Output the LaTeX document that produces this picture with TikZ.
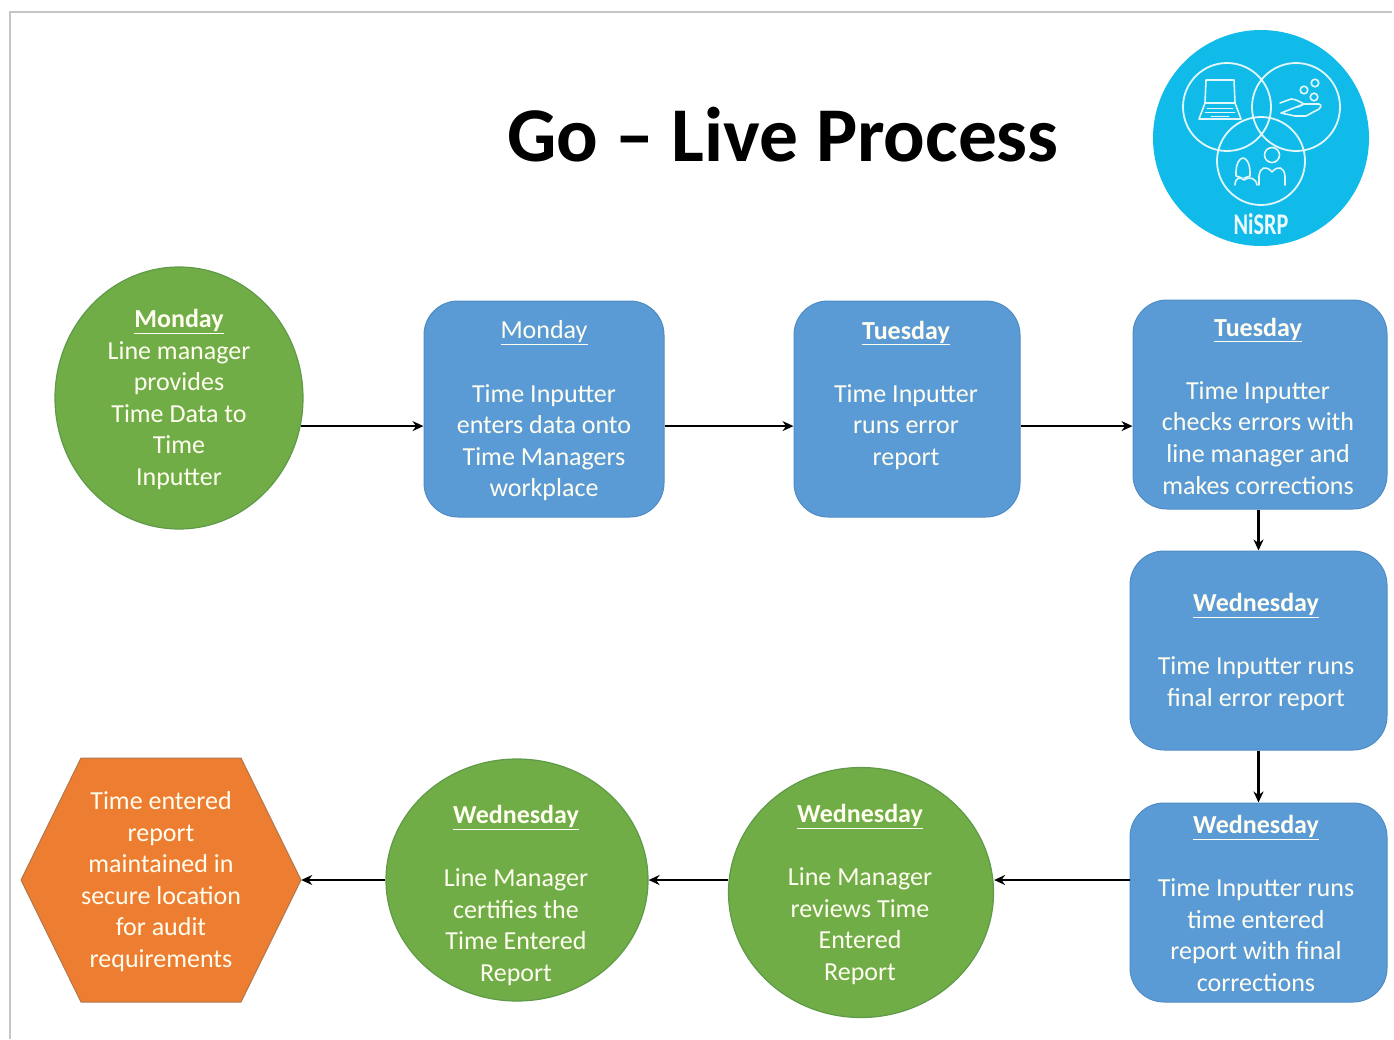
\documentclass[tikz,border=0pt]{standalone}
\usepackage{fontspec}
\setmainfont{Carlito}
\usetikzlibrary{shapes.geometric,arrows.meta}
\definecolor{bluefill}{HTML}{5B9BD5}
\definecolor{blueline}{HTML}{4F8CC4}
\definecolor{greenfill}{HTML}{70AD47}
\definecolor{greenline}{HTML}{5F9A48}
\definecolor{orangefill}{HTML}{ED7D31}
\definecolor{orangeline}{HTML}{B0784E}
\definecolor{logoblue}{HTML}{10BBE9}
\definecolor{framegrey}{HTML}{C6C6C6}
\newcommand{\hd}[1]{\underline{\textbf{#1}}}
\newcommand{\hn}[1]{\underline{#1}}
\tikzset{
  x=1pt,y=-1pt,
  shapetext/.style={inner sep=0pt,align=center,text=white!94!yellow,font=\fontsize{26}{31.6}\selectfont},
  bluebox/.style={draw=blueline,fill=bluefill,line width=1pt,rounded corners=34pt,inner sep=0pt},
  greenell/.style={ellipse,draw=greenline,fill=greenfill,line width=1.2pt,inner sep=0pt},
  flow/.style={line width=2.2pt,black,-{Stealth[length=11pt,width=10pt]}},
  icon/.style={draw=white!88!logoblue,line width=1.6pt,line join=round,line cap=round},
  ring/.style={draw=white!88!logoblue,line width=1.8pt}
}
\begin{document}
\begin{tikzpicture}
\useasboundingbox (0,0) rectangle (1394,1039);
\draw[framegrey,line width=2pt] (10,1039) -- (10,12) -- (1392,12);
\node[font=\fontsize{77.5}{80}\selectfont\bfseries,text=black,inner sep=0pt] (title) at (783,135) {Go – Live Process};
% logo
\node[circle,fill=logoblue,minimum size=216pt,inner sep=0pt] (logo) at (1261,138) {};
\draw[ring] (1227,107) circle[radius=44] (1296,107) circle[radius=44] (1261,161) circle[radius=44];
\draw[icon] (1206,80) -- (1234,80) -- (1235,103) -- (1205,103) -- cycle;
\draw[icon] (1205,103) -- (1199,119) -- (1241,119) -- (1235,103);
\draw[icon,line width=.9pt] (1207,108) -- (1233,108) (1205,112) -- (1235,112) (1211,116) -- (1229,116);
\draw[icon] (1315,83) circle[radius=3.8] (1304,90) circle[radius=3.8] (1314,97) circle[radius=3.8];
\draw[icon] (1280,103) -- (1291,99) .. controls (1296,99) and (1300,102) .. (1304,104) -- (1298,107) (1304,104) -- (1319,104) .. controls (1322,105) and (1321,108) .. (1319,109) -- (1306,116) -- (1295,116) -- (1281,113) -- cycle;
\draw[icon] (1272,155) circle[radius=7.5];
\draw[icon] (1259,185) -- (1259,176) .. controls (1260,167) and (1266,165) .. (1272,172) .. controls (1278,165) and (1284,167) .. (1285,176) -- (1285,185);
\draw[icon] (1236,176) .. controls (1235,152) and (1251,152) .. (1250,176) (1236,176) -- (1242,178) (1250,176) -- (1244,178);
\draw[icon] (1235,185) .. controls (1235,178) and (1240,176) .. (1244,180) .. controls (1249,176) and (1256,178) .. (1257,185);
\node[font=\fontsize{30}{30}\selectfont\bfseries,text=white!92!logoblue,inner sep=0pt,xscale=.74] (nisrp) at (1261,224) {NiSRP};
% shapes
\node[greenell,minimum width=248pt,minimum height=262pt] (c1) at (179,398) {};
\node[shapetext] (c1text) at (179,399.5) {\hd{Monday}\\Line manager\\provides\\Time Data to\\Time\\Inputter};
\node[bluebox,minimum width=240pt,minimum height=216pt] (b2) at (544,409) {};
\node[shapetext] (b2text) at (544,411) {\hn{Monday}\\~\\Time Inputter\\enters data onto\\Time Managers\\workplace};
\node[bluebox,minimum width=226pt,minimum height=216pt] (b3) at (907,409) {};
\node[shapetext] (b3text) at (906,409) {\hd{Tuesday}\\~\\Time Inputter\\runs error\\report\\~};
\node[bluebox,minimum width=254pt,minimum height=209pt] (b4) at (1260,404.5) {};
\node[shapetext] (b4text) at (1258,406) {\hd{Tuesday}\\~\\Time Inputter\\checks errors with\\line manager and\\makes corrections};
\node[bluebox,minimum width=257pt,minimum height=199pt] (b5) at (1258.5,650.5) {};
\node[shapetext] (b5text) at (1256,652) {\hd{Wednesday}\\~\\Time Inputter runs\\final error report};
\node[bluebox,minimum width=257pt,minimum height=199pt] (b6) at (1258.5,902.5) {};
\node[shapetext] (b6text) at (1256,903.5) {\hd{Wednesday}\\~\\Time Inputter runs\\time entered\\report with final\\corrections};
\node[greenell,minimum width=265pt,minimum height=250pt] (c7) at (861,892.5) {};
\node[shapetext] (c7text) at (860,894.5) {\hd{Wednesday}\\~\\Line Manager\\reviews Time\\Entered\\Report};
\node[greenell,minimum width=262pt,minimum height=242pt] (c8) at (517,880) {};
\node[shapetext] (c8text) at (516,895.5) {\hd{Wednesday}\\~\\Line Manager\\certifies the\\Time Entered\\Report};
\fill[orangefill,draw=orangeline,line width=1pt,line join=round] (21,880) -- (81,758) -- (241,758) -- (301,880) -- (241,1002) -- (81,1002) -- cycle;
\node[minimum width=280pt,minimum height=244pt,inner sep=0pt] (hex) at (161,880) {};
\node[shapetext] (hextext) at (161,881.5) {Time entered\\report\\maintained in\\secure location\\for audit\\requirements};
% connectors
\draw[flow] (c1.-13) -- (c1.-13 -| b2.west);
\draw[flow] (c1.-13 -| b2.east) -- (c1.-13 -| b3.west);
\draw[flow] (c1.-13 -| b3.east) -- (c1.-13 -| b4.west);
\draw[flow] (b4.south -| b5.north) -- (b5.north);
\draw[flow] (b5.south) -- (b6.north);
\draw[flow] (hex.east -| b6.west) -- (hex.east -| c7.east);
\draw[flow] (hex.east -| c7.west) -- (hex.east -| c8.east);
\draw[flow] (c8.west) -- (hex.east);
\end{tikzpicture}
\end{document}
